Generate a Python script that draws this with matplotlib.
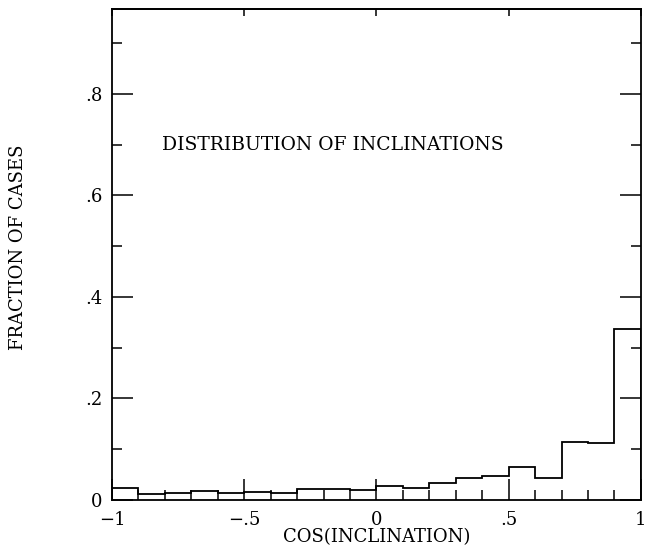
import matplotlib
matplotlib.use('Agg')
import matplotlib.pyplot as plt
import numpy as np
from matplotlib.ticker import FixedLocator, FixedFormatter, MultipleLocator, NullFormatter

# histogram of cos(inclination), 20 bins of width 0.1
bin_edges = np.round(np.arange(-1.0, 1.0001, 0.1), 2)
fraction = [0.024, 0.011, 0.014, 0.018, 0.014, 0.015, 0.014, 0.021, 0.021, 0.020,
            0.027, 0.023, 0.033, 0.043, 0.048, 0.065, 0.044, 0.114, 0.113, 0.337]

xticks = [-1, -0.5, 0, 0.5, 1]
xticklabels = ['\u22121', '\u2212.5', '0', '.5', '1']
yticks = [0, 0.2, 0.4, 0.6, 0.8]
yticklabels = ['0', '.2', '.4', '.6', '.8']

plt.rcParams['font.family'] = 'DejaVu Serif'
plt.rcParams['font.size'] = 13

fig = plt.figure(figsize=(6.45, 5.53), dpi=100)
ax = fig.add_axes([0.1736, 0.0958, 0.82, 0.8879])

ax.stairs(fraction, bin_edges, color='black', linewidth=1.3)

ax.set_xlim(-1, 1)
ax.set_ylim(0, 0.967)

ax.xaxis.set_major_locator(FixedLocator(xticks))
ax.xaxis.set_major_formatter(FixedFormatter(xticklabels))
ax.xaxis.set_minor_locator(MultipleLocator(0.1))
ax.yaxis.set_major_locator(FixedLocator(yticks))
ax.yaxis.set_major_formatter(FixedFormatter(yticklabels))
ax.yaxis.set_minor_locator(MultipleLocator(0.1))

ax.tick_params(which='both', direction='in', top=False, right=True, width=1.1)
ax.tick_params(which='major', length=15)
ax.tick_params(which='minor', length=7)
ax.tick_params(axis='x', which='major', pad=8)
ax.tick_params(axis='y', which='major', pad=7)

# top edge only has short major ticks
top = ax.secondary_xaxis('top')
top.xaxis.set_major_locator(FixedLocator(xticks))
top.xaxis.set_major_formatter(NullFormatter())
top.tick_params(which='major', direction='in', length=5, width=1.1)
top.tick_params(which='minor', length=0)
top.spines['top'].set_linewidth(1.3)

for s in ax.spines.values():
    s.set_linewidth(1.3)

ax.set_xlabel('COS(INCLINATION)', labelpad=-1)
ax.set_ylabel('FRACTION OF CASES')
ax.yaxis.set_label_coords(-0.16, 0.515)

ax.text(0.0945, 0.723, 'DISTRIBUTION OF INCLINATIONS', transform=ax.transAxes,
        ha='left', va='center', fontsize=13.5)

fig.savefig('out.png', dpi=100, facecolor='white')
